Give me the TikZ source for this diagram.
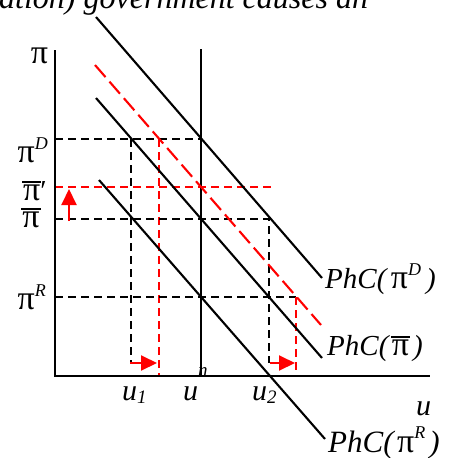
\documentclass[tikz,border=0pt]{standalone}
\usepackage{fontspec}
\setmainfont{Liberation Serif}
\usetikzlibrary{arrows.meta}
\newcommand\sps[1]{\raisebox{0.43em}{\fontsize{18}{18}\selectfont\itshape #1}}
\newcommand\sbs[1]{\raisebox{-0.12em}{\fontsize{19}{19}\selectfont\itshape #1}}
\newcommand\pp{{\fontsize{34}{34}\selectfont π}}
\newcommand\pibar{\setbox0\hbox{\pp}\rlap{\hspace{-1pt}\raisebox{0.6em}{\rule{\dimexpr\wd0+2pt\relax}{1.6pt}}}\box0}
\begin{document}
\begin{tikzpicture}[x=1pt,y=-1pt,
  axisline/.style={black,line width=2.2pt},
  phc/.style={black,line width=2.1pt},
  blackdash/.style={black,line width=2pt,dash pattern=on 8pt off 5pt},
  reddash/.style={red,line width=2pt,dash pattern=on 8pt off 5pt},
  redlong/.style={red,line width=2.1pt,dash pattern=on 16pt off 6pt},
  redarrow/.style={red,line width=2pt,-{Triangle[length=16pt,width=15pt]}},
  lbl/.style={font=\fontsize{29}{31}\selectfont,inner sep=0pt},
  ilbl/.style={font=\fontsize{30}{32}\selectfont\itshape,inner sep=0pt}]
\useasboundingbox (0,0) rectangle (454,458);
% title fragment
\node[anchor=base west,font=\fontsize{32}{34}\selectfont\itshape,inner sep=0pt] (title) at (-1,8) {ation) government causes an};
% coordinates
\coordinate (O) at (55,376);
\coordinate (Ytop) at (55,50);
\coordinate (Xend) at (430,376);
\coordinate (Ntop) at (201,49);
\coordinate (Nbot) at (201,376);
\coordinate (yD) at (55,139);
\coordinate (yP) at (55,187);
\coordinate (yB) at (55,219);
\coordinate (yR) at (55,297);
\coordinate (aD) at (201,139);
\coordinate (u1t) at (131,139);
\coordinate (u1b) at (131,363);
\coordinate (r1t) at (159,139);
\coordinate (r1b) at (159,376);
\coordinate (pE) at (272,187);
\coordinate (u2t) at (269,219);
\coordinate (u2b) at (269,363);
\coordinate (r2t) at (296,297);
\coordinate (r2b) at (296,376);
% dashed guides
\draw[blackdash] (yD) -- (aD);
\draw[blackdash] (u1t) -- (u1b);
\draw[reddash] (r1t) -- (r1b);
\draw[reddash] (yP) -- (pE);
\draw[blackdash] (yB) -- (u2t) -- (u2b);
\draw[blackdash] (yR) -- (r2t);
\draw[reddash] (r2t) -- (r2b);
% axes
\draw[axisline] (Ytop) -- (O) -- (Xend);
\draw[axisline] (Ntop) -- (Nbot);
% Phillips curves
\coordinate (Ds) at (96,17);  \coordinate (De) at (322,278);
\coordinate (Bs) at (96,98);  \coordinate (Be) at (322,358);
\coordinate (Rs) at (99,180); \coordinate (Re) at (325,439);
\coordinate (Ps) at (95,65);  \coordinate (Pe) at (321,325);
\draw[phc] (Ds) -- (De);
\draw[phc] (Bs) -- (Be);
\draw[phc] (Rs) -- (Re);
\draw[redlong] (Ps) -- (Pe);
% red arrows
\coordinate (a1s) at (69,221); \coordinate (a1e) at (69,189);
\coordinate (a2s) at (130,363); \coordinate (a2e) at (157,363);
\coordinate (a3s) at (270,363); \coordinate (a3e) at (295,363);
\draw[redarrow] (a1s) -- (a1e);
\draw[redarrow] (a2s) -- (a2e);
\draw[redarrow] (a3s) -- (a3e);
% axis labels
\node[lbl,anchor=base] (piax) at (39.5,63) {\pp};
\node[lbl,anchor=base east] (piD) at (48,162) {\pp\sps{D}};
\node[lbl,anchor=base] (piP) at (35,200) {\pibar′};
\node[lbl,anchor=base] (piB) at (31,227) {\pibar};
\node[lbl,anchor=base east] (piR) at (46,309) {\pp\sps{R}};
\node[ilbl,anchor=base west] (u1) at (122,400) {u\sbs{1}};
\node[ilbl,anchor=base west] (un) at (183,400) {u\raisebox{0.8em}{\fontsize{19}{19}\selectfont\itshape n}};
\node[ilbl,anchor=base west] (u2) at (252,400) {u\sbs{2}};
\node[ilbl,anchor=base west] (uax) at (416,415) {u};
% curve labels
\node[lbl,anchor=base west] (lD) at (325,288) {\textit{PhC(}\hspace{3pt}\pp\sps{D}\hspace{5pt}\textit{)}};
\node[lbl,anchor=base west] (lB) at (327,355) {\textit{PhC(}\hspace{2pt}\pibar\hspace{4pt}\textit{)}};
\node[lbl,anchor=base west,font=\fontsize{31}{33}\selectfont] (lR) at (328,452) {\textit{PhC(}\hspace{2pt}\pp\sps{R}\hspace{4pt}\textit{)}};
\end{tikzpicture}
\end{document}
